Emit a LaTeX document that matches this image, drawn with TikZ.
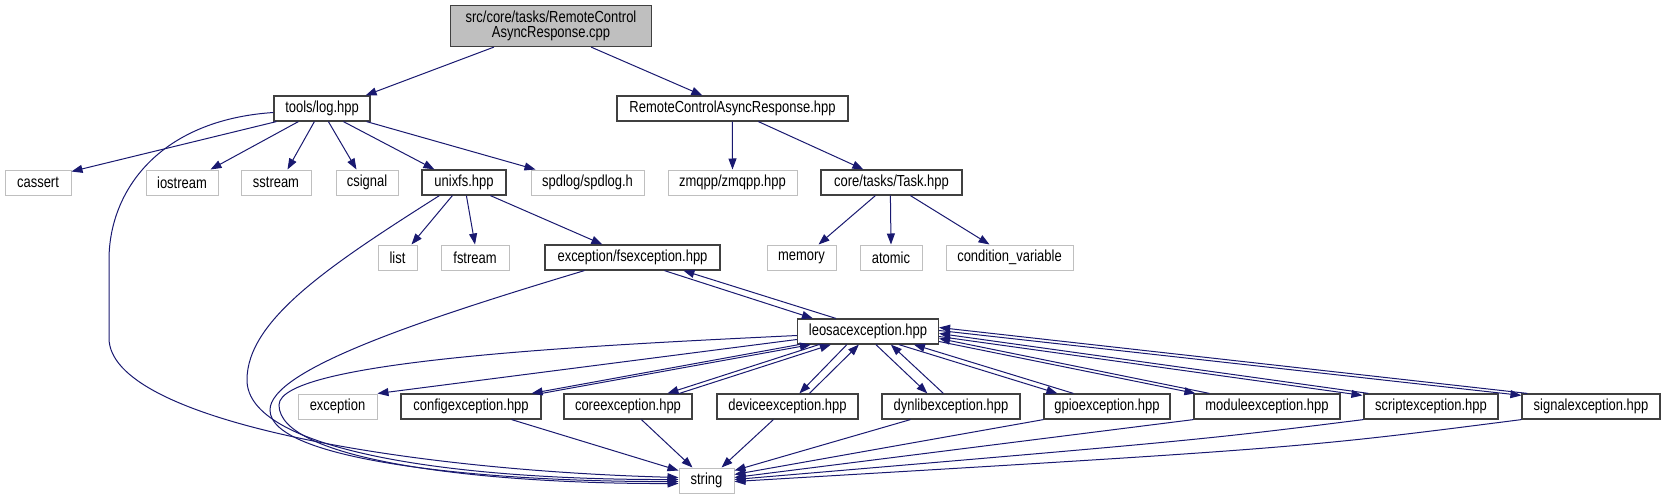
\documentclass[tikz,border=0pt]{standalone}
\usepackage{fontspec}
\setmainfont{Liberation Sans}[FakeStretch=0.81]
\usetikzlibrary{arrows.meta,calc}
\definecolor{edgec}{HTML}{191970}
\definecolor{dkb}{HTML}{404040}
\definecolor{ltb}{HTML}{BFBFBF}
\begin{document}
\begin{tikzpicture}[x=1pt,y=-1pt, font=\fontsize{16}{15}\selectfont,
 box/.style={rectangle, inner sep=0pt, minimum height=25pt, align=center},
 dk/.style={box, draw=dkb, line width=1.2pt, fill=white},
 lt/.style={box, draw=ltb, line width=1pt, fill=white},
 dep/.style={draw=edgec, line width=1pt, -{Triangle[length=11pt,width=8pt]}}]
\useasboundingbox (0,0) rectangle (1665,500);
% row 0
\node[box, draw=dkb, line width=1.2pt, fill=ltb, minimum width=201pt, minimum height=41pt] (root) at (551,26) {src/core/tasks/RemoteControl\\AsyncResponse.cpp};
% row 1
\node[dk, minimum width=96pt] (log) at (322,108.5) {tools/log.hpp};
\node[dk, minimum width=231pt] (rcar) at (732.5,108.5) {RemoteControlAsyncResponse.hpp};
% row 2
\node[lt, minimum width=66pt] (cassert) at (38,182.5) {cassert};
\node[lt, minimum width=72pt] (iostream) at (182,182.5) {iostream};
\node[lt, minimum width=70pt] (sstream) at (276,182.5) {sstream};
\node[lt, minimum width=62pt] (csignal) at (367,182.5) {csignal};
\node[dk, minimum width=84pt] (unixfs) at (464,182.5) {unixfs.hpp};
\node[lt, minimum width=113pt] (spdlog) at (587.5,182.5) {spdlog/spdlog.h};
\node[lt, minimum width=129pt] (zmqpp) at (732.5,182.5) {zmqpp/zmqpp.hpp};
\node[dk, minimum width=141pt] (task) at (891.5,182.5) {core/tasks/Task.hpp};
% row 3
\node[lt, minimum width=39pt] (list) at (397.5,257.5) {list};
\node[lt, minimum width=68pt] (fstream) at (475,257.5) {fstream};
\node[dk, minimum width=175pt] (fsexc) at (632.5,257.5) {exception/fsexception.hpp};
\node[lt, minimum width=69pt] (memory) at (801.5,257.5) {memory};
\node[lt, minimum width=62pt] (atomic) at (891,257.5) {atomic};
\node[lt, minimum width=127pt] (cond) at (1009.5,257.5) {condition\_variable};
% row 4
\node[dk, minimum width=141pt] (leo) at (868,331.5) {leosacexception.hpp};
% row 5
\node[lt, minimum width=79pt] (exc) at (337.5,406.5) {exception};
\node[dk, minimum width=140pt] (cfg) at (471,406.5) {configexception.hpp};
\node[dk, minimum width=128pt] (core) at (628,406.5) {coreexception.hpp};
\node[dk, minimum width=141pt] (device) at (787.5,406.5) {deviceexception.hpp};
\node[dk, minimum width=138pt] (dynlib) at (951,406.5) {dynlibexception.hpp};
\node[dk, minimum width=126pt] (gpio) at (1107,406.5) {gpioexception.hpp};
\node[dk, minimum width=146pt] (module) at (1267,406.5) {moduleexception.hpp};
\node[dk, minimum width=134pt] (script) at (1431,406.5) {scriptexception.hpp};
\node[dk, minimum width=138pt] (signal) at (1591,406.5) {signalexception.hpp};
% row 6
\node[lt, minimum width=55pt] (string) at (706.5,480.5) {string};

% edges from root
\draw[dep] ($(root.south west)+(44,0)$) -- ($(log.north east)+(-5,0)$);
\draw[dep] ($(root.south east)+(-61,0)$) -- ($(rcar.north west)+(86,0)$);
% log
\draw[dep] ($(log.south west)+(3,0)$) -- ($(cassert.north east)+(0,2)$);
\draw[dep] ($(log.south west)+(25,0)$) -- ($(iostream.north east)+(-8,0)$);
\draw[dep] ($(log.south west)+(41,0)$) -- ($(sstream.north west)+(47,0)$);
\draw[dep] ($(log.south west)+(55,0)$) -- ($(csignal.north west)+(21,0)$);
\draw[dep] ($(log.south west)+(70,0)$) -- ($(unixfs.north west)+(13,0)$);
\draw[dep] ($(log.south east)+(-4,0)$) -- ($(spdlog.north west)+(5,0)$);
\draw[dep] ($(log.west)+(0,4)$) .. controls (160,120) and (109,190) .. (109,260) -- (109,338) .. controls (109,420) and (400,470) .. ($(string.west)+(0,-3)$);
% rcar
\draw[dep] ($(rcar.south west)+(116,0)$) -- (zmqpp.north);
\draw[dep] ($(rcar.south west)+(142,0)$) -- ($(task.north west)+(43,0)$);
% task
\draw[dep] ($(task.south west)+(55,0)$) -- ($(memory.north east)+(-18,0)$);
\draw[dep] ($(task.south west)+(70,0)$) -- (atomic.north);
\draw[dep] ($(task.south west)+(90,0)$) -- ($(cond.north west)+(44,0)$);
% unixfs
\draw[dep] ($(unixfs.south west)+(31,0)$) -- ($(list.north east)+(-6,0)$);
\draw[dep] ($(unixfs.south west)+(45,0)$) -- (fstream.north);
\draw[dep] ($(unixfs.south west)+(69,0)$) -- ($(fsexc.north west)+(58,0)$);
\draw[dep] ($(unixfs.south west)+(18,0)$) .. controls (330,265) and (247,320) .. (247,380) .. controls (247,450) and (450,480) .. ($(string.west)+(0,-1)$);
% fsexception
\draw[dep] ($(fsexc.south west)+(40,0)$) .. controls (420,320) and (270,370) .. (270,410) .. controls (270,460) and (480,482) .. ($(string.west)+(0,1)$);
\draw[dep] ($(fsexc.south west)+(120,0)$) -- ($(leo.north west)+(16,0)$);
\draw[dep] ($(leo.north west)+(39,0)$) -- ($(fsexc.south west)+(139,0)$);
% leosac left
\draw[dep] ($(leo.west)+(0,4)$) .. controls (600,345) and (279,360) .. (279,405) .. controls (279,460) and (480,484) .. ($(string.west)+(0,3)$);
\draw[dep] ($(leo.west)+(0,8)$) -- (exc.north east);
% pairs
\draw[dep] ($(leo.south west)+(2,0)$) -- ($(cfg.north east)+(-10,0)$);
\draw[dep] (cfg.north east) -- ($(leo.south west)+(14,0)$);
\draw[dep] ($(leo.south west)+(22,0)$) -- ($(core.north west)+(104,0)$);
\draw[dep] ($(core.north west)+(116,0)$) -- ($(leo.south west)+(34,0)$);
\draw[dep] ($(leo.south west)+(50,0)$) -- ($(device.north west)+(83,0)$);
\draw[dep] ($(device.north west)+(93,0)$) -- ($(leo.south west)+(62,0)$);
\draw[dep] ($(leo.south west)+(79,0)$) -- ($(dynlib.north west)+(46,0)$);
\draw[dep] ($(dynlib.north west)+(62,0)$) -- ($(leo.south west)+(94,0)$);
\draw[dep] ($(leo.south west)+(102,0)$) -- ($(gpio.north west)+(14,0)$);
\draw[dep] ($(gpio.north west)+(30,0)$) -- ($(leo.south west)+(117,0)$);
\draw[dep] ($(leo.east)+(0,10)$) -- ($(module.north west)+(2,0)$);
\draw[dep] ($(module.north west)+(16,0)$) -- ($(leo.east)+(0,7)$);
\draw[dep] ($(leo.east)+(0,5)$) -- ($(script.north west)+(-1,2)$);
\draw[dep] ($(script.north west)+(5,0)$) -- ($(leo.east)+(0,2)$);
\draw[dep] ($(leo.east)+(0,-1)$) -- ($(signal.north west)+(0,2)$);
\draw[dep] ($(signal.north west)+(6,0)$) -- ($(leo.east)+(0,-4)$);
% to string
\draw[dep] ($(cfg.south east)+(-30,0)$) -- ($(string.west)+(0,-10)$);
\draw[dep] ($(core.south west)+(78,0)$) -- ($(string.north west)+(14,0)$);
\draw[dep] ($(device.south west)+(57,0)$) -- ($(string.north east)+(-13,0)$);
\draw[dep] ($(dynlib.south west)+(29,0)$) -- ($(string.east)+(0,-10)$);
\draw[dep] (gpio.south west) -- ($(string.east)+(0,-6)$);
\draw[dep] (module.south west) -- ($(string.east)+(0,-3)$);
\draw[dep] (script.south west) .. controls (1200,440) .. ($(string.east)+(0,-1)$);
\draw[dep] (signal.south west) .. controls (1300,448) .. ($(string.east)+(0,1)$);
\end{tikzpicture}
\end{document}
